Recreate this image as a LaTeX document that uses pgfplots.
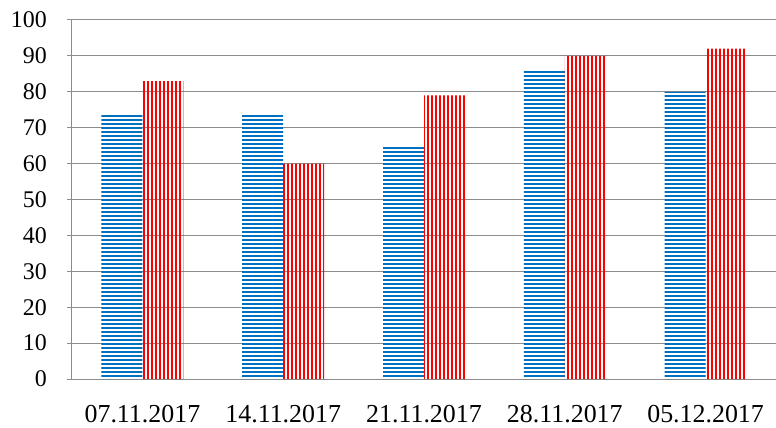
\documentclass[border=0pt]{standalone}
\usepackage{pgfplots}
\pgfplotsset{compat=1.18}
\usepackage{fontspec}
\setmainfont{Liberation Serif}
\usetikzlibrary{patterns.meta}
\definecolor{bblue}{HTML}{0070C0}
\definecolor{rred}{HTML}{FF0000}
\definecolor{gridgray}{HTML}{8C8C8C}
\begin{document}
\begin{tikzpicture}
\begin{axis}[
  scale only axis,
  width=704bp, height=359bp,
  xmin=-0.5, xmax=4.5,
  ymin=0, ymax=100,
  ytick={0,10,...,100},
  xtick={0,1,2,3,4},
  xticklabels={07.11.2017,14.11.2017,21.11.2017,28.11.2017,05.12.2017},
  axis x line=bottom, axis y line=left,
  axis line style={gridgray, line width=1bp, -},
  ymajorgrids, major grid style={gridgray, line width=1bp},
  ytick style={gridgray, line width=1bp},
  major tick length=5bp,
  ytick align=outside,
  xtick style={draw=none},
  every tick label/.append style={inner sep=0pt, text=black},
  yticklabel style={font=\fontsize{24}{26}\selectfont, anchor=east, xshift=-20bp},
  xticklabel style={font=\fontsize{26}{28}\selectfont, anchor=north, yshift=-21bp},
  /pgf/number format/assume math mode=true,
  ybar=0pt, bar width=41bp,
  clip=false,
]
\addplot[draw=none, fill=none, pattern={Lines[angle=0, distance=4bp, line width=2bp]}, pattern color=bblue]
  coordinates {(0,74) (1,74) (2,65) (3,86) (4,80)};
\addplot[draw=none, fill=none, pattern={Lines[angle=90, distance=4bp, line width=2.6bp]}, pattern color=rred]
  coordinates {(0,83) (1,60) (2,79) (3,90) (4,92)};
\end{axis}
\pgfresetboundingbox
\useasboundingbox (-72bp,-49bp) rectangle (704bp,379bp);
\end{tikzpicture}
\end{document}
